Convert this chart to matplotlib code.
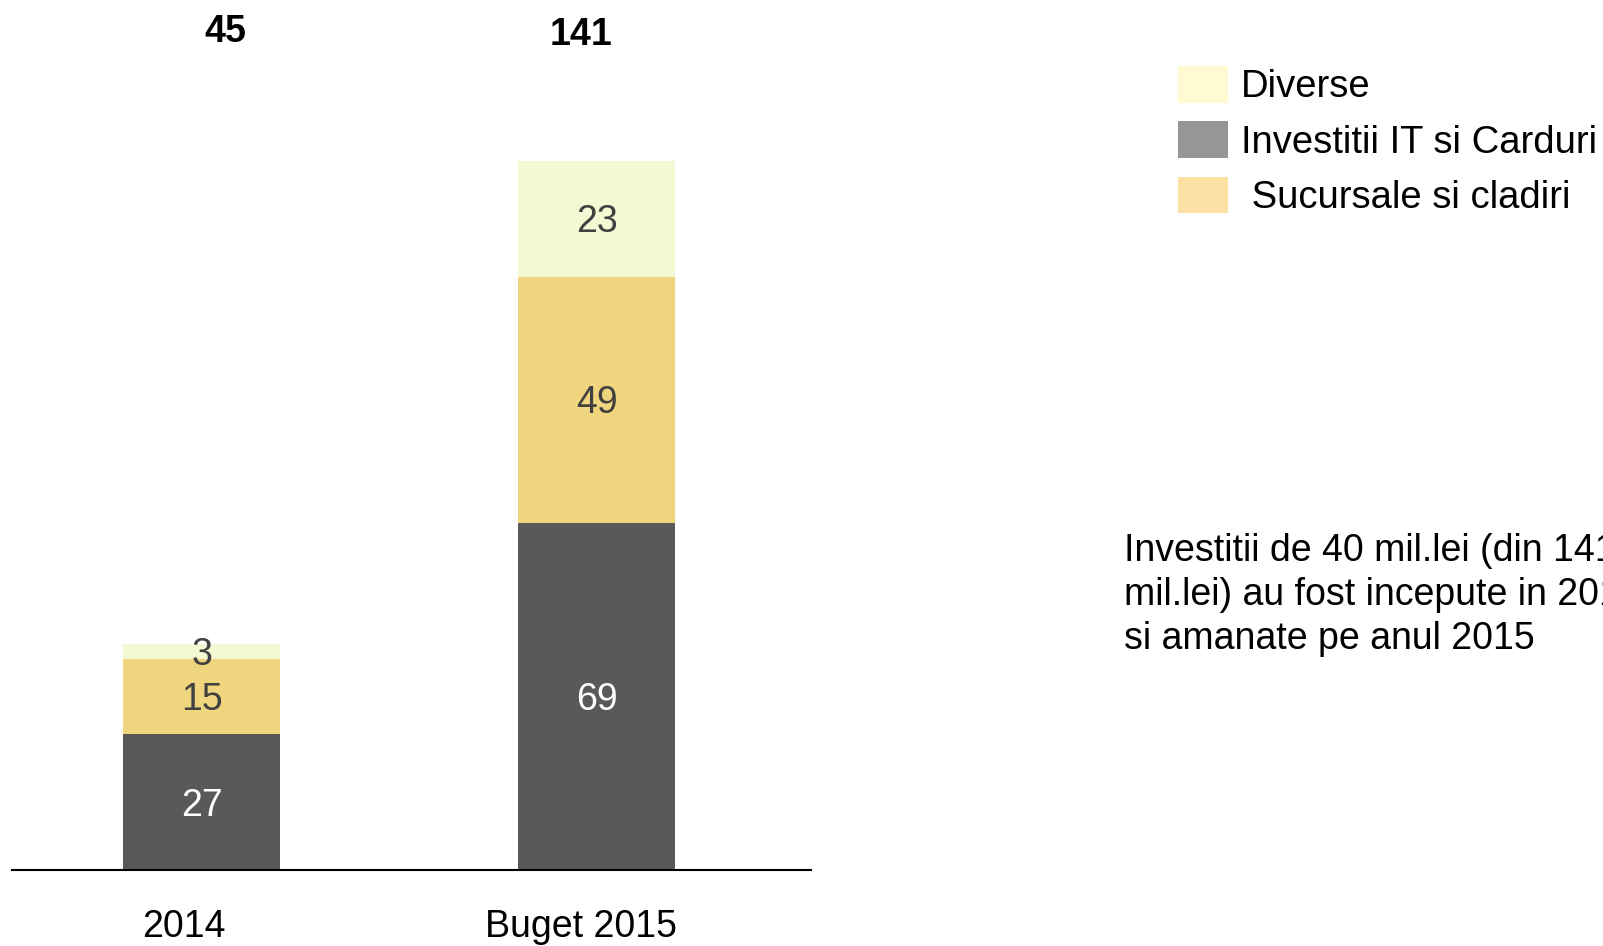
import numpy as np
import matplotlib
matplotlib.use('Agg')
import matplotlib.pyplot as plt
from matplotlib.patches import Patch

# data (mil. lei)
categories = ['2014', 'Buget 2015']
it_carduri = [27, 69]
sucursale = [15, 49]
diverse = [3, 23]
totals = [45, 141]

legend_labels = ['Diverse', 'Investitii IT si Carduri', ' Sucursale si cladiri']
note = ('Investitii de 40 mil.lei (din 141\n'
        'mil.lei) au fost incepute in 2014\n'
        'si amanate pe anul 2015')

# colours
c_dark = '#595959'
c_mid = '#EFD57D'
c_light = '#F4F9D3'
leg_colors = ['#FFFACF', '#969696', '#FCE0A4']

plt.rcParams['font.family'] = ['Liberation Sans', 'DejaVu Sans']

fig = plt.figure(figsize=(16.03, 9.46), dpi=100)
ax = fig.add_axes([12 / 1603, 76 / 946, 799 / 1603, 870 / 946])

x = np.arange(len(categories))
w = 0.397
it_carduri = np.array(it_carduri)
sucursale = np.array(sucursale)
diverse = np.array(diverse)

# stacked bars
b1 = ax.bar(x, it_carduri, w, color=c_dark)
b2 = ax.bar(x, sucursale, w, bottom=it_carduri, color=c_mid)
b3 = ax.bar(x, diverse, w, bottom=it_carduri + sucursale, color=c_light)

# values inside the segments (small nudge down so the digits look centred)
dy = -0.7
for i in range(len(x)):
    ax.text(x[i], it_carduri[i] / 2 + dy, str(it_carduri[i]), ha='center', va='center',
            color='white', fontsize=27)
    ax.text(x[i], it_carduri[i] + sucursale[i] / 2 + dy, str(sucursale[i]), ha='center',
            va='center', color='#404040', fontsize=27)
    ax.text(x[i], it_carduri[i] + sucursale[i] + diverse[i] / 2 + dy, str(diverse[i]),
            ha='center', va='center', color='#404040', fontsize=27)

# totals on top, fixed row near the top
tot_shift = [0.06, -0.039]
tot_y = [166.6, 166.0]
for i in range(len(x)):
    ax.text(x[i] + tot_shift[i], tot_y[i], str(totals[i]), ha='center', va='center',
            fontsize=27, fontweight='bold', color='black')

ax.set_xlim(-0.48, 1.543)
ax.set_ylim(0, 173)
ax.set_xticks(x + np.array([-0.044, -0.039]))
ax.set_xticklabels(categories, fontsize=27)
ax.tick_params(axis='x', length=0, pad=28)
ax.set_yticks([])
for s in ['top', 'right', 'left']:
    ax.spines[s].set_visible(False)
ax.spines['bottom'].set_linewidth(1.5)
ax.spines['bottom'].set_color('black')

# legend
handles = [Patch(facecolor=c, edgecolor='none') for c in leg_colors]
fig.legend(handles, legend_labels, loc='upper left',
           bbox_to_anchor=(1178 / 1603, 1 - 66 / 946), frameon=False,
           fontsize=27.5, handlelength=1.3, handleheight=1.1, handletextpad=0.35,
           labelspacing=0.42, borderpad=0, borderaxespad=0)

# side note
fig.text(1124 / 1603, 1 - 533 / 946, note, ha='left', va='top', fontsize=27,
         linespacing=1.285)

fig.savefig('out.png', dpi=100)
